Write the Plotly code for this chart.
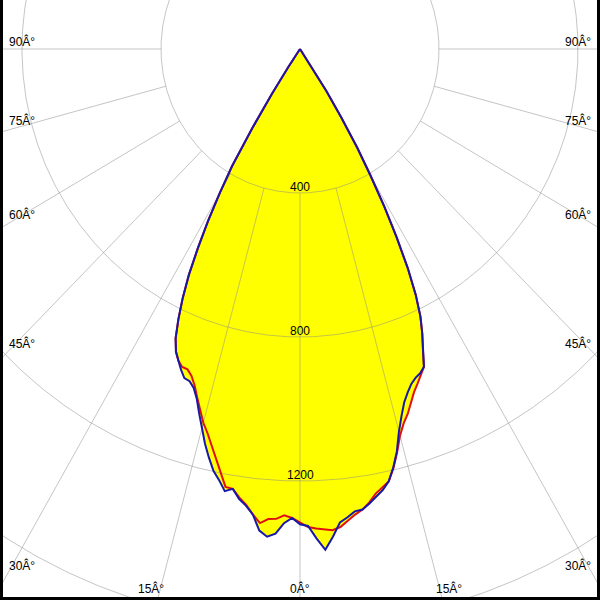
import numpy as np
import plotly.graph_objects as go

# ---- data (cd), gamma in degrees ----
gamma = list(range(0, 36))
blue_right = [1320, 1325, 1360, 1393, 1358, 1320, 1308, 1294, 1292, 1278, 1263, 1248, 1228, 1193,
              1152, 1100, 1060, 1026, 1003, 984, 972, 965, 952, 905, 865, 820, 760, 683, 592, 500,
              405, 320, 225, 140, 60, 0]
blue_left = [1320, 1303, 1318, 1348, 1358, 1343, 1300, 1278, 1262, 1237, 1247, 1220, 1198, 1165,
             1130, 1092, 1053, 1016, 990, 976, 973, 955, 935, 914, 880, 828, 770, 705, 625, 545,
             462, 380, 258, 148, 60, 0]
red_right = [1316, 1328, 1333, 1337, 1340, 1333, 1318, 1303, 1292, 1275, 1254, 1240, 1228, 1195,
             1155, 1112, 1082, 1060, 1033, 1008, 989, 970, 952, 905, 865, 820, 760, 683, 592, 500,
             405, 320, 225, 140, 60, 0]
red_left = [1316, 1303, 1296, 1307, 1309, 1322, 1300, 1275, 1258, 1237, 1235, 1197, 1163, 1130,
            1100, 1075, 1043, 1012, 982, 960, 947, 946, 934, 913, 880, 828, 770, 705, 625, 545,
            462, 380, 258, 148, 60, 0]

ring_values = [400, 800, 1200, 1600]
ring_labels = ["400", "800", "1200"]
spoke_angles = [-90, -75, -60, -45, -30, -15, 0, 15, 30, 45, 60, 75, 90]
side_angles = [90, 75, 60, 45, 30]
bottom_angles = [15, 0, 15]
deg = "Â°"

# ---- geometry of the view ----
W = H = 600
cx, cy = 300, 49          # pole position in pixels
sx, sy = 0.3475, 0.36     # pixels per cd
xr = [-(W - cx) / sx, cx / sx]
yr = [-(H - cy) / sy, cy / sy]

g = np.radians(np.array(gamma, dtype=float))


def outline(left, right):
    l = np.array(left, float)
    r = np.array(right, float)
    xl, yl = -l * np.sin(g), -l * np.cos(g)
    xr_, yr_ = r * np.sin(g), -r * np.cos(g)
    x = np.concatenate([xl[::-1], xr_])
    y = np.concatenate([yl[::-1], yr_])
    return x, y


bx, by = outline(blue_left, blue_right)
rx, ry = outline(red_left, red_right)

fig = go.Figure()
# yellow fills
for x, y in [(rx, ry), (bx, by)]:
    fig.add_trace(go.Scatter(x=x, y=y, mode="lines", fill="toself", fillcolor="#ffff00",
                             line=dict(width=0, color="#ffff00"), hoverinfo="skip", showlegend=False))

# grid circles
t = np.linspace(0, 2 * np.pi, 721)
gx, gy = [], []
for R in ring_values:
    gx += list(R * np.sin(t)) + [None]
    gy += list(R * np.cos(t)) + [None]
# spokes
for a in spoke_angles:
    ar = np.radians(a)
    rr = np.array([400.0, 4000.0])
    gx += list(rr * np.sin(ar)) + [None]
    gy += list(-rr * np.cos(ar)) + [None]
fig.add_trace(go.Scatter(x=gx, y=gy, mode="lines", line=dict(color="rgba(140,140,140,0.5)", width=1),
                         hoverinfo="skip", showlegend=False))

# curves
fig.add_trace(go.Scatter(x=rx, y=ry, mode="lines", line=dict(color="#e01010", width=2),
                         hoverinfo="skip", showlegend=False))
fig.add_trace(go.Scatter(x=bx, y=by, mode="lines", line=dict(color="#1818a8", width=2),
                         hoverinfo="skip", showlegend=False))

font = dict(family="Liberation Sans, Arial, sans-serif", size=12, color="black")
ann = []
for lab in ring_labels:
    R = float(lab)
    ann.append(dict(x=0, y=-R, xref="x", yref="y", text=lab, showarrow=False, font=font,
                    xanchor="center", yanchor="middle", yshift=6))

xl_d = (cx - 7) / sx
for a in side_angles:
    yd = 0.0 if a == 90 else -xl_d / np.tan(np.radians(a))
    ys = -2 if a == 90 else 0
    ann.append(dict(x=-xl_d, y=yd, xref="x", yref="y", text=f"{a}{deg}", showarrow=False, font=font,
                    xanchor="left", yanchor="bottom", yshift=ys))
    ann.append(dict(x=xl_d, y=yd, xref="x", yref="y", text=f"{a}{deg}", showarrow=False, font=font,
                    xanchor="right", yanchor="bottom", yshift=ys))

for a, px in zip(bottom_angles, [151, 300, 449]):
    ann.append(dict(x=px / W, y=1 - 588 / H, xref="paper", yref="paper", text=f"{a}{deg}",
                    showarrow=False, font=font, xanchor="center", yanchor="middle"))

fig.update_layout(
    width=W, height=H, margin=dict(l=0, r=0, t=0, b=0),
    paper_bgcolor="white", plot_bgcolor="white",
    xaxis=dict(range=xr, visible=False, fixedrange=True),
    yaxis=dict(range=yr, visible=False, fixedrange=True),
    annotations=ann, showlegend=False,
)
# black frame on left, right and bottom edges of the page
post = ("document.body.style.margin='0';document.body.style.overflow='hidden';"
        "var d=document.querySelector('.plotly-graph-div');"
        "d.style.boxSizing='border-box';"
        "var f=document.createElement('div');"
        "f.style.cssText='position:absolute;left:0;top:0;width:600px;height:600px;"
        "box-sizing:border-box;border-left:3px solid #000;border-right:3px solid #000;"
        "border-bottom:3px solid #000;pointer-events:none;z-index:10;';"
        "document.body.appendChild(f);")
fig.write_html("out.html", config={"displayModeBar": False}, post_script=post)
